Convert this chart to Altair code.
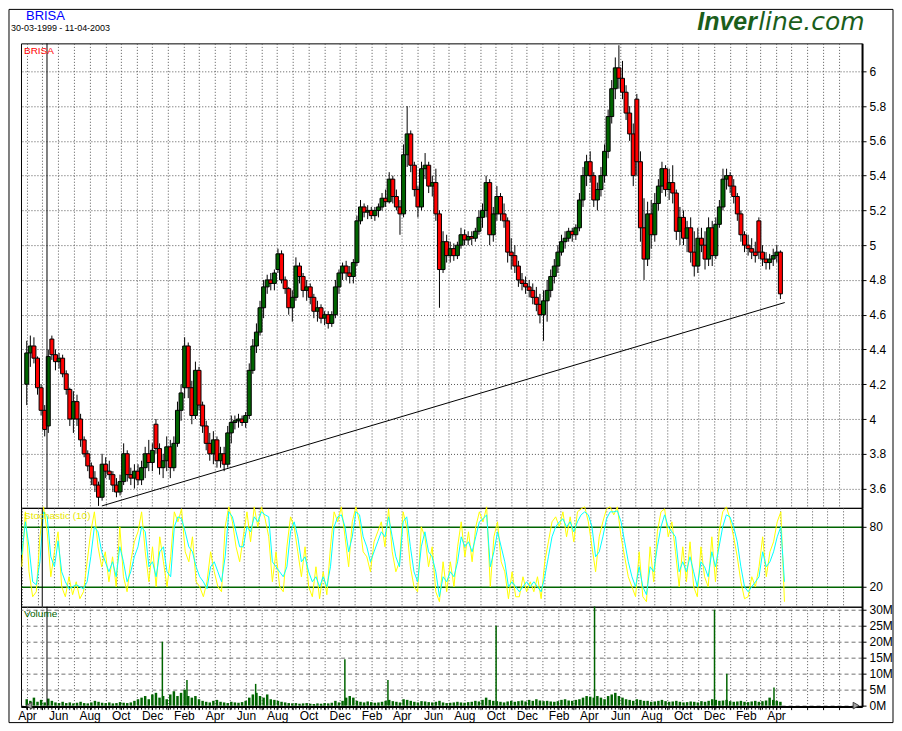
import altair as alt
import pandas as pd

# ---------------- data ----------------
week0 = "1999-03-29"   # Monday of the first weekly candle

opens = [
    4.20, 4.38, 4.42, 4.35, 4.18, 4.05, 3.96, 4.46, 4.37, 4.33,
    4.35, 4.26, 4.17, 4.00, 4.10, 4.00, 3.88, 3.80, 3.73, 3.66,
    3.62, 3.55, 3.74, 3.70, 3.68, 3.62, 3.58, 3.64, 3.80, 3.68,
    3.66, 3.70, 3.65, 3.72, 3.80, 3.75, 3.97, 3.83, 3.72, 3.76,
    3.84, 3.72, 3.86, 4.05, 4.18, 4.42, 4.18, 4.02, 4.28, 4.08,
    3.96, 3.86, 3.80, 3.88, 3.76, 3.80, 3.74, 3.92, 3.98, 3.99,
    4.00, 3.98, 4.02, 4.28, 4.42, 4.50, 4.64, 4.76, 4.80, 4.78,
    4.86, 4.95, 4.80, 4.75, 4.64, 4.70, 4.88, 4.82, 4.74, 4.76,
    4.70, 4.62, 4.64, 4.58, 4.60, 4.55, 4.60, 4.76, 4.84, 4.88,
    4.84, 4.82, 4.90, 5.14, 5.22, 5.19, 5.20, 5.17, 5.20, 5.22,
    5.27, 5.25, 5.38, 5.28, 5.22, 5.18, 5.52, 5.64, 5.46, 5.32,
    5.22, 5.44, 5.46, 5.34, 5.36, 5.18, 4.86, 5.02, 4.94, 4.98,
    4.94, 5.00, 5.06, 5.03, 5.05, 5.04, 5.08, 5.16, 5.20, 5.36,
    5.06, 5.18, 5.28, 5.18, 5.14, 4.96, 4.94, 4.88, 4.80, 4.78,
    4.76, 4.74, 4.70, 4.66, 4.60, 4.68, 4.74, 4.82, 4.88, 4.96,
    5.02, 5.04, 5.08, 5.06, 5.10, 5.26, 5.40, 5.48, 5.40, 5.26,
    5.32, 5.40, 5.54, 5.74, 5.90, 6.02, 5.96, 5.88, 5.76, 5.64,
    5.84, 5.48, 5.10, 4.92, 5.18, 5.06, 5.24, 5.34, 5.44, 5.32,
    5.36, 5.30, 5.08, 5.16, 5.04, 5.10, 4.96, 4.88, 5.04, 5.00,
    4.92, 5.10, 4.94, 5.12, 5.22, 5.38, 5.40, 5.34, 5.28, 5.18,
    5.06, 5.00, 4.98, 4.96, 5.14, 4.96, 4.92, 4.90, 4.92, 4.94, 4.96,
]
highs = [
    4.45, 4.48, 4.47, 4.36, 4.20, 4.08, 4.40, 4.48, 4.40, 4.38,
    4.37, 4.28, 4.18, 4.16, 4.14, 4.03, 3.90, 3.82, 3.75, 3.70,
    3.64, 3.80, 3.78, 3.76, 3.70, 3.66, 3.68, 3.86, 3.82, 3.72,
    3.74, 3.74, 3.76, 3.84, 3.88, 3.86, 4.00, 3.86, 3.80, 3.90,
    3.88, 3.90, 4.10, 4.20, 4.47, 4.44, 4.22, 4.33, 4.30, 4.10,
    3.99, 3.92, 3.93, 3.90, 3.84, 3.84, 3.96, 4.02, 4.02, 4.03,
    4.02, 4.04, 4.32, 4.46, 4.55, 4.68, 4.80, 4.83, 4.84, 4.86,
    4.98, 4.97, 4.82, 4.76, 4.74, 4.93, 4.90, 4.84, 4.80, 4.78,
    4.72, 4.68, 4.66, 4.62, 4.62, 4.62, 4.80, 4.86, 4.90, 4.91,
    4.88, 4.92, 5.17, 5.26, 5.24, 5.23, 5.22, 5.22, 5.24, 5.30,
    5.32, 5.42, 5.40, 5.32, 5.26, 5.58, 5.80, 5.66, 5.48, 5.34,
    5.48, 5.53, 5.48, 5.40, 5.44, 5.20, 5.08, 5.06, 5.02, 5.01,
    5.02, 5.10, 5.09, 5.08, 5.08, 5.10, 5.20, 5.24, 5.40, 5.38,
    5.22, 5.34, 5.30, 5.24, 5.16, 5.04, 5.00, 4.91, 4.84, 4.82,
    4.80, 4.78, 4.76, 4.72, 4.74, 4.80, 4.86, 4.92, 5.00, 5.06,
    5.08, 5.10, 5.10, 5.12, 5.30, 5.45, 5.52, 5.54, 5.42, 5.36,
    5.45, 5.58, 5.78, 5.95, 6.08, 6.15, 6.06, 5.92, 5.80, 5.70,
    5.87, 5.54, 5.27, 5.25, 5.26, 5.30, 5.38, 5.48, 5.46, 5.44,
    5.46, 5.32, 5.22, 5.20, 5.14, 5.16, 5.08, 5.10, 5.10, 5.08,
    5.16, 5.14, 5.16, 5.26, 5.44, 5.44, 5.42, 5.38, 5.30, 5.20,
    5.08, 5.06, 5.04, 5.02, 5.16, 5.00, 4.96, 4.95, 4.98, 5.00, 4.97,
]
lows = [
    4.08, 4.30, 4.32, 4.14, 4.02, 3.90, 3.92, 4.34, 4.28, 4.29,
    4.24, 4.14, 3.96, 3.92, 3.96, 3.84, 3.78, 3.70, 3.62, 3.58,
    3.50, 3.53, 3.66, 3.65, 3.58, 3.55, 3.56, 3.62, 3.64, 3.62,
    3.60, 3.62, 3.62, 3.66, 3.70, 3.70, 3.80, 3.68, 3.66, 3.70,
    3.66, 3.70, 3.84, 3.99, 4.12, 4.12, 3.97, 4.00, 4.05, 3.92,
    3.82, 3.76, 3.74, 3.72, 3.72, 3.70, 3.72, 3.86, 3.94, 3.95,
    3.96, 3.95, 4.00, 4.26, 4.38, 4.48, 4.58, 4.72, 4.74, 4.74,
    4.84, 4.78, 4.72, 4.60, 4.56, 4.68, 4.78, 4.70, 4.68, 4.66,
    4.58, 4.56, 4.55, 4.54, 4.52, 4.53, 4.58, 4.72, 4.80, 4.80,
    4.78, 4.78, 4.88, 5.12, 5.16, 5.15, 5.15, 5.14, 5.16, 5.20,
    5.22, 5.24, 5.24, 5.20, 5.06, 5.16, 5.45, 5.42, 5.28, 5.16,
    5.20, 5.38, 5.30, 5.28, 5.14, 4.64, 4.84, 4.90, 4.90, 4.91,
    4.92, 4.98, 5.00, 5.00, 5.00, 5.02, 5.06, 5.10, 5.16, 5.00,
    5.02, 5.14, 5.14, 5.10, 4.90, 4.86, 4.84, 4.76, 4.74, 4.72,
    4.70, 4.66, 4.62, 4.55, 4.45, 4.56, 4.70, 4.78, 4.84, 4.94,
    4.98, 5.02, 5.02, 5.03, 5.08, 5.22, 5.34, 5.36, 5.22, 5.20,
    5.28, 5.36, 5.50, 5.70, 5.84, 5.90, 5.84, 5.72, 5.60, 5.34,
    5.40, 5.02, 4.80, 4.88, 4.98, 5.02, 5.20, 5.30, 5.28, 5.26,
    5.24, 5.03, 5.00, 5.00, 4.96, 4.90, 4.82, 4.84, 4.96, 4.86,
    4.88, 4.88, 4.92, 5.10, 5.20, 5.32, 5.30, 5.24, 5.14, 5.02,
    4.96, 4.94, 4.92, 4.90, 4.92, 4.88, 4.86, 4.86, 4.88, 4.90, 4.69,
]
closes = [
    4.38, 4.42, 4.35, 4.18, 4.05, 3.94, 4.36, 4.37, 4.33, 4.35,
    4.26, 4.17, 4.00, 4.10, 4.00, 3.88, 3.80, 3.73, 3.66, 3.62,
    3.55, 3.74, 3.70, 3.68, 3.62, 3.58, 3.64, 3.80, 3.68, 3.66,
    3.70, 3.65, 3.72, 3.80, 3.75, 3.82, 3.83, 3.72, 3.76, 3.84,
    3.72, 3.86, 4.05, 4.15, 4.42, 4.18, 4.02, 4.28, 4.08, 3.96,
    3.86, 3.80, 3.88, 3.76, 3.80, 3.74, 3.92, 3.98, 3.99, 4.00,
    3.98, 4.02, 4.28, 4.42, 4.50, 4.64, 4.76, 4.80, 4.78, 4.84,
    4.95, 4.80, 4.75, 4.64, 4.70, 4.88, 4.82, 4.74, 4.76, 4.70,
    4.62, 4.64, 4.58, 4.60, 4.55, 4.60, 4.76, 4.84, 4.88, 4.84,
    4.82, 4.90, 5.14, 5.22, 5.19, 5.20, 5.17, 5.20, 5.22, 5.27,
    5.25, 5.38, 5.28, 5.22, 5.18, 5.52, 5.64, 5.46, 5.32, 5.22,
    5.44, 5.46, 5.34, 5.36, 5.18, 4.86, 5.02, 4.94, 4.98, 4.94,
    5.00, 5.06, 5.03, 5.05, 5.04, 5.08, 5.16, 5.20, 5.36, 5.06,
    5.18, 5.28, 5.18, 5.14, 4.96, 4.94, 4.88, 4.80, 4.78, 4.76,
    4.74, 4.70, 4.66, 4.60, 4.68, 4.74, 4.82, 4.88, 4.96, 5.02,
    5.04, 5.08, 5.06, 5.10, 5.26, 5.40, 5.48, 5.40, 5.26, 5.32,
    5.40, 5.54, 5.74, 5.90, 6.02, 5.96, 5.88, 5.76, 5.64, 5.40,
    5.48, 5.10, 4.92, 5.18, 5.06, 5.24, 5.34, 5.44, 5.32, 5.36,
    5.30, 5.08, 5.16, 5.04, 5.10, 4.96, 4.88, 5.04, 5.00, 4.92,
    5.10, 4.94, 5.12, 5.22, 5.38, 5.40, 5.34, 5.28, 5.18, 5.06,
    5.00, 4.98, 4.96, 4.94, 4.96, 4.92, 4.90, 4.92, 4.94, 4.96, 4.72,
]

stoch_k = [
    40, 95, 35, 10, 15, 70, 100, 75, 30, 55,
    75, 20, 10, 30, 12, 25, 8, 15, 45, 75,
    95, 60, 40, 55, 25, 50, 20, 80, 30, 15,
    45, 65, 75, 95, 55, 25, 60, 20, 70, 45,
    20, 50, 95, 85, 98, 55, 45, 70, 25, 20,
    10, 25, 55, 35, 20, 15, 80, 100, 85, 60,
    45, 70, 95, 65, 100, 80, 100, 88, 70, 25,
    55, 20, 15, 60, 90, 80, 55, 30, 60, 20,
    10, 40, 8, 35, 12, 60, 95, 85, 100, 70,
    40, 85, 100, 85, 55, 50, 35, 65, 75, 85,
    60, 98, 55, 35, 45, 95, 80, 40, 20, 15,
    80, 70, 40, 60, 15, 5, 45, 15, 45, 20,
    60, 85, 50, 75, 45, 80, 95, 85, 100, 20,
    70, 85, 45, 35, 8, 35, 10, 10, 30, 15,
    25, 15, 30, 8, 45, 65, 85, 90, 80, 95,
    70, 90, 65, 95, 98, 100, 85, 60, 35, 70,
    85, 98, 100, 92, 100, 70, 50, 30, 20, 10,
    55, 10, 5, 60, 25, 75, 95, 98, 70, 85,
    55, 20, 60, 25, 65, 20, 10, 60, 30, 20,
    70, 25, 75, 95, 100, 88, 70, 50, 25, 8,
    10, 30, 20, 40, 70, 30, 55, 65, 85, 95, 5,
]
stoch_d = [
    52, 85, 60, 25, 22, 45, 95, 90, 50, 40,
    66, 35, 25, 18, 20, 22, 20, 18, 25, 50,
    80, 75, 55, 45, 35, 45, 30, 60, 45, 25,
    35, 50, 60, 80, 75, 40, 45, 30, 55, 60,
    35, 30, 80, 90, 88, 75, 60, 55, 40, 30,
    25, 18, 40, 45, 35, 25, 50, 95, 90, 75,
    60, 60, 80, 75, 90, 85, 95, 92, 90, 45,
    40, 35, 30, 40, 75, 85, 70, 45, 50, 35,
    25, 30, 20, 30, 20, 40, 80, 90, 92, 80,
    55, 70, 95, 92, 70, 60, 45, 55, 65, 75,
    70, 90, 70, 50, 40, 85, 90, 60, 35, 25,
    60, 75, 55, 50, 35, 10, 30, 25, 35, 30,
    45, 70, 60, 65, 55, 70, 85, 88, 92, 40,
    55, 75, 60, 45, 20, 25, 20, 15, 20, 25,
    20, 25, 20, 15, 30, 50, 70, 80, 85, 88,
    80, 85, 75, 85, 92, 95, 92, 80, 50, 55,
    70, 88, 95, 95, 96, 85, 65, 45, 30, 20,
    40, 20, 12, 40, 35, 60, 80, 92, 80, 75,
    70, 35, 45, 35, 50, 35, 20, 45, 40, 30,
    55, 40, 60, 80, 92, 90, 80, 65, 40, 20,
    15, 20, 25, 30, 55, 40, 45, 55, 70, 80, 25,
]

volume_m = [
    2.0, 1.5, 2.5, 1.2, 1.8, 1.0, 2.2, 1.5, 1.0, 0.8,
    1.2, 0.8, 1.0, 0.7, 0.9, 1.2, 0.8, 0.7, 1.0, 1.5,
    1.2, 0.9, 0.8, 1.0, 0.7, 0.8, 1.1, 0.9, 0.8, 1.0,
    1.5, 2.0, 2.5, 3.0, 2.0, 3.5, 4.0, 2.5, 3.0, 2.0,
    3.5, 4.5, 3.0, 4.0, 5.0, 3.0, 2.5, 3.0, 2.0, 1.5,
    1.2, 1.0, 1.5, 1.8, 1.2, 1.0, 0.8, 1.2, 1.0, 0.9,
    1.1, 1.5, 2.5, 3.5, 4.0, 3.0, 2.5, 3.5, 2.0, 1.8,
    1.5, 1.2, 1.0, 0.8, 0.7, 0.8, 0.6, 0.7, 0.8, 0.6,
    0.5, 0.7, 0.6, 0.8, 0.7, 0.9, 1.5, 1.0, 1.5, 2.5,
    3.0, 2.5, 1.5, 1.2, 1.0, 1.3, 1.1, 0.9, 1.0, 1.2,
    1.5, 1.8, 1.4, 1.2, 1.0, 2.0, 1.8, 1.5, 1.2, 1.0,
    1.4, 1.3, 1.1, 1.0, 1.2, 1.5, 1.0, 0.8, 0.9, 1.0,
    1.2, 1.0, 0.9, 1.1, 1.2, 1.5, 1.3, 1.8, 2.5, 1.8,
    1.5, 1.4, 1.2, 1.0, 1.3, 1.5, 1.2, 1.4, 1.6, 1.3,
    1.8, 1.5, 2.0, 1.6, 1.4, 1.5, 1.3, 1.2, 1.4, 1.8,
    2.0, 1.6, 1.5, 1.8, 2.0, 2.5, 3.0, 2.8, 2.5, 3.0,
    2.5, 2.0, 3.0, 3.5, 4.0, 3.0, 2.5, 2.0, 1.8, 1.5,
    2.0, 1.8, 1.5, 1.5, 1.2, 1.3, 1.5, 1.8, 1.4, 1.2,
    1.3, 1.5, 1.2, 1.0, 1.1, 1.3, 1.2, 1.0, 1.4, 1.2,
    1.5, 2.0, 1.8, 1.5, 1.6, 1.8, 1.4, 1.2, 1.3, 1.5,
    1.2, 1.1, 1.3, 1.5, 1.2, 1.4, 1.6, 2.5, 1.8, 1.5, 1.2,
]

spike_dates = ["1999-12-21", "2000-02-07", "2000-06-20", "2000-12-11", "2001-03-05",
               "2001-10-02", "2002-04-12", "2002-12-02", "2002-12-26", "2003-03-28"]
spike_vols = [20.0, 8.0, 6.8, 14.5, 8.0, 25.0, 31.0, 30.0, 10.0, 5.7]

trend_dates = ["1999-08-25", "2003-04-18"]
trend_prices = [3.50, 4.67]

marker_date = ["1999-05-10"]

price_ticks = [3.6, 3.8, 4.0, 4.2, 4.4, 4.6, 4.8, 5.0, 5.2, 5.4, 5.6, 5.8, 6.0]
stoch_ticks = [20, 80]
volume_ticks = [0, 5, 10, 15, 20, 25, 30]

title_text = "BRISA"
range_text = "30-03-1999 - 11-04-2003"
logo_bold = "Inver"
logo_rest = "line.com"
stoch_label = "Stochastic (10)"
volume_label = "Volume"

# ---------------- helpers ----------------
def ms(s):
    return int(pd.Timestamp(s, tz="UTC").value // 10**6)

X_START, X_END = ms("1999-03-30"), ms("2003-09-06")
month_ms = [int(t.value // 10**6) for t in pd.date_range("1999-04-01", "2003-08-01", freq="MS", tz="UTC")]
LAST_LABEL = ms("2003-04-01")

week_dates = pd.date_range(week0, periods=len(closes), freq="7D", tz="UTC") + pd.Timedelta(hours=60)
week_ms = [int(t.value // 10**6) for t in week_dates]

candles = pd.DataFrame({"date": week_ms, "open": opens, "high": highs, "low": lows, "close": closes})
stoch = pd.DataFrame({"date": week_ms, "k": stoch_k, "d": stoch_d})
vol = pd.DataFrame({"date": week_ms, "v": volume_m})
spikes = pd.DataFrame({"date": [ms(d) for d in spike_dates], "v": spike_vols})
trend = pd.DataFrame({"date": [ms(d) for d in trend_dates], "p": trend_prices})
marker = pd.DataFrame({"date": [ms(d) for d in marker_date]})
one = pd.DataFrame({"a": [0]})

GREEN = "#006400"
RED = "#FF0000"
FONT = "Liberation Sans"
W = 842
H1, H2, H3 = 465, 99, 100

XS = alt.Scale(type="utc", domain=[X_START, X_END])
grid_x = alt.Axis(values=month_ms, tickCount=500, grid=True, gridDash=[1, 2], gridColor="#555555",
                  labels=False, ticks=False, domain=False, title=None)


def right_axis(values, **kw):
    return alt.Axis(orient="right", values=values, tickCount=500, title=None, domainColor="black",
                    domainWidth=2, tickColor="black", tickSize=4, labelFontSize=12, labelFont=FONT,
                    labelColor="black", labelPadding=3, labelOverlap=False, labelBound=False,
                    **kw)


def text_layer(txt, x, y, size, color, font=FONT, weight="normal", style="normal"):
    return alt.Chart(pd.DataFrame({"t": [txt]})).mark_text(
        align="left", baseline="alphabetic", fontSize=size, font=font, color=color,
        fontWeight=weight, fontStyle=style).encode(x=alt.value(x), y=alt.value(y), text="t:N")


# ---------------- price panel ----------------
PS = alt.Scale(domain=[3.489, 6.161], nice=False, zero=False)
base = alt.Chart(candles).encode(x=alt.X("date:T", scale=XS, axis=grid_x))
wicks = base.mark_rule(color="black", strokeWidth=1).encode(
    y=alt.Y("low:Q", scale=PS,
            axis=right_axis(price_ticks, format="~g", grid=True, gridDash=[1, 2], gridColor="#555555")),
    y2="high:Q")
bodies = base.mark_bar(size=4, stroke="black", strokeWidth=1).encode(
    y="open:Q", y2="close:Q",
    color=alt.condition("datum.close >= datum.open", alt.value(GREEN), alt.value(RED)))
trendline = alt.Chart(trend).mark_line(color="black", strokeWidth=1).encode(
    x=alt.X("date:T", scale=XS), y=alt.Y("p:Q", scale=PS))
mark1 = alt.Chart(marker).mark_rule(color="black", strokeWidth=1).encode(x=alt.X("date:T", scale=XS))
frame = alt.Chart(one).mark_rect(fillOpacity=0, stroke="black", strokeWidth=1).encode(
    x=alt.value(-12), x2=alt.value(873), y=alt.value(-34), y2=alt.value(680))

p1 = alt.layer(
    wicks, bodies, trendline, mark1, frame,
    text_layer(title_text, 5, -23, 13, "#0000FF"),
    text_layer(range_text, -10, -12, 9, "black"),
    text_layer(logo_bold, 677, -13, 25, "#1B5E1B", weight="bold", style="italic"),
    text_layer(logo_rest, 738, -13, 25, "#1B5E1B", font="DejaVu Sans", style="italic"),
    text_layer(title_text, 3, 11, 10, RED),
).properties(width=W, height=H1)

# ---------------- stochastic panel ----------------
SS = alt.Scale(domain=[0, 99], nice=False, zero=False)
sbase = alt.Chart(stoch).encode(x=alt.X("date:T", scale=XS, axis=grid_x))
k_line = sbase.mark_line(color="#FFFF00", strokeWidth=1).encode(
    y=alt.Y("k:Q", scale=SS, axis=right_axis(stoch_ticks, format="d", grid=True,
                                              gridColor=GREEN, gridWidth=1.5)))
d_line = sbase.mark_line(color="#00FFFF", strokeWidth=1).encode(y="d:Q")
mark2 = alt.Chart(marker).mark_rule(color="black", strokeWidth=1).encode(x=alt.X("date:T", scale=XS))
p2 = alt.layer(k_line, d_line, mark2,
               text_layer(stoch_label, 3, 11, 10, "#E8E800")).properties(width=W, height=H2)

# ---------------- volume panel ----------------
VS = alt.Scale(domain=[-0.31, 30.94], nice=False, zero=False)
x_bottom = alt.Axis(values=month_ms, tickCount=500, grid=True, gridDash=[1, 2], gridColor="#555555",
                    labelExpr=f"(utcmonth(datum.value) % 2 == 1 && datum.value <= {LAST_LABEL}) ? utcFormat(datum.value, '%b') : ''",
                    labelFontSize=12, labelFont=FONT, labelColor="black", labelPadding=1,
                    labelOverlap=False, labelBound=False,
                    tickSize=3, tickColor="black", domainColor="black", domainWidth=2, title=None)
vbars = alt.Chart(vol).mark_bar(size=2.5, color=GREEN).encode(
    x=alt.X("date:T", scale=XS, axis=x_bottom),
    y=alt.Y("v:Q", scale=VS, axis=right_axis(volume_ticks, labelExpr="datum.value + 'M'", grid=True,
                                              gridDash=[4, 3], gridColor="#707070")))
vspikes = alt.Chart(spikes).mark_rule(color=GREEN, strokeWidth=1.5).encode(
    x=alt.X("date:T", scale=XS), y=alt.Y("v:Q", scale=VS), y2=alt.datum(0))
wticks = alt.Chart(vol).mark_rule(color="black", strokeWidth=1).encode(
    x=alt.X("date:T", scale=XS), y=alt.value(H3), y2=alt.value(H3 + 3))
mark3 = alt.Chart(marker).mark_rule(color="black", strokeWidth=1).encode(x=alt.X("date:T", scale=XS))
arrow_l = alt.Chart(one).mark_point(shape="triangle-left", filled=True, fill="#A0A0A0",
                                    stroke="#404040", strokeWidth=1, size=45, opacity=1).encode(
    x=alt.value(8), y=alt.value(H3 - 1))
arrow_r = alt.Chart(one).mark_point(shape="triangle-right", filled=True, fill="#A0A0A0",
                                    stroke="#404040", strokeWidth=1, size=45, opacity=1).encode(
    x=alt.value(836), y=alt.value(H3 - 1))
p3 = alt.layer(vbars, vspikes, wticks, mark3, arrow_l, arrow_r,
               text_layer(volume_label, 3, 10, 10, GREEN)).properties(width=W, height=H3)

chart = alt.vconcat(p1, p2, p3, spacing=0, bounds="flush").properties(
    padding=0, background="white"
).configure_view(stroke="black", strokeWidth=1)

chart.save("out.html", embed_options={"renderer": "svg", "actions": False})
